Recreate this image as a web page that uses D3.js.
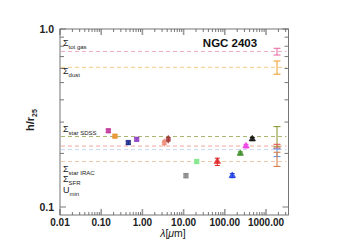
<!DOCTYPE html>
<html>
<head>
<meta charset="utf-8">
<script src="https://cdn.jsdelivr.net/npm/d3@7"></script>
<style>
  body { margin: 0; background: #fff; }
  text { font-family: "Liberation Sans", Arial, sans-serif; }
</style>
</head>
<body>
<div id="chart"></div>
<script>
// wavelength points (micron), scale length h/r25 and error range
const wavelengths = [0.149, 0.216, 0.455, 0.727, 3.4, 4.25, 11.4, 20.8, 65.8, 152, 238, 327, 465];
const hValues     = [0.268, 0.250, 0.230, 0.240, 0.230, 0.240, 0.150, 0.180, 0.180, 0.150, 0.200, 0.220, 0.241];
const hLow        = [0.262, 0.245, 0.225, 0.235, 0.225, 0.235, 0.146, 0.176, 0.171, 0.146, 0.196, 0.215, 0.236];
const hHigh       = [0.274, 0.255, 0.235, 0.245, 0.235, 0.245, 0.154, 0.184, 0.188, 0.154, 0.204, 0.225, 0.246];
const pointColors = ["#c0399a", "#e8952e", "#1c2a8c", "#8e3fc4", "#f08a78", "#a33636", "#8a8a8a", "#7fe88a", "#e02424", "#1f3ee0", "#3f8f2c", "#ee3fe8", "#111111"];
const pointShapes = ["square", "square", "square", "square", "diamond", "diamond", "square", "square", "triangle", "triangle", "triangle", "triangle", "triangle"];

// surface density profiles (dashed lines) and their values at ~2 mm
const profileX     = 1850;
const profileVals  = [0.748, 0.609, 0.249, 0.220, 0.210, 0.180];
const profileLow   = [0.714, 0.557, 0.218, 0.214, 0.192, 0.169];
const profileHigh  = [0.779, 0.661, 0.283, 0.225, 0.212, 0.203];
const profileLine  = ["#eeaac8", "#f2cc84", "#a9b56a", "#f0a898", "#c8d6f0", "#ecc8aa"];
const profileBar   = ["#e870a8", "#f0a438", "#8f9a3a", "#e05a50", "#6e96e0", "#d8804a"];

const labelMain = ["\u03a3", "\u03a3", "\u03a3", "\u03a3", "\u03a3", "U"];
const labelSub  = ["tot gas", "dust", "star SDSS", "star IRAC", "SFR", "min"];
const labelY    = [46, 74, 132, 172, 182, 193];

const xTickLabels = ["0.01", "0.10", "1.00", "10.00", "100.00", "1000.00"];

const W = 347, H = 245;
const plot = { left: 60, right: 288.5, top: 29, bottom: 215 };

const svg = d3.select("#chart").append("svg")
    .attr("width", W)
    .attr("height", H);

const x = d3.scaleLog()
    .domain([0.01, Math.pow(10, 3.546)])
    .range([plot.left, plot.right]);

const y = d3.scaleLog()
    .domain([Math.pow(10, -1.045), 1])
    .range([plot.bottom, plot.top]);

// ticks
const xt = x.ticks().filter(d => d >= 0.01);
const yt = y.ticks().filter(d => d >= 0.1);
const isMajor = d => Math.abs(Math.log10(d) - Math.round(Math.log10(d))) < 1e-6;

const tickG = svg.append("g");
xt.forEach(d => {
    const len = isMajor(d) ? 6 : 3;
    const col = isMajor(d) ? "#999" : "#555";
    const sw = isMajor(d) ? 1.6 : 0.8;
    tickG.append("line").attr("x1", x(d)).attr("x2", x(d))
        .attr("y1", plot.bottom).attr("y2", plot.bottom - len)
        .attr("stroke", col).attr("stroke-width", sw);
    tickG.append("line").attr("x1", x(d)).attr("x2", x(d))
        .attr("y1", plot.top).attr("y2", plot.top + len)
        .attr("stroke", col).attr("stroke-width", sw);
});
yt.forEach(d => {
    const len = isMajor(d) ? 6 : 4;
    tickG.append("line").attr("y1", y(d)).attr("y2", y(d))
        .attr("x1", plot.left).attr("x2", plot.left + len)
        .attr("stroke", "#555").attr("stroke-width", 0.8);
    tickG.append("line").attr("y1", y(d)).attr("y2", y(d))
        .attr("x1", plot.right).attr("x2", plot.right - len)
        .attr("stroke", "#555").attr("stroke-width", 0.8);
});

// frame
svg.append("rect")
    .attr("x", plot.left).attr("y", plot.top)
    .attr("width", plot.right - plot.left)
    .attr("height", plot.bottom - plot.top)
    .attr("fill", "none").attr("stroke", "#666").attr("stroke-width", 0.9);

// tick labels
svg.selectAll(".xl")
    .data(xTickLabels)
    .join("text")
    .attr("x", d => x(+d))
    .attr("y", plot.bottom + 11)
    .attr("text-anchor", "middle")
    .attr("font-size", 10)
    .attr("font-weight", "bold")
    .attr("fill", "#222")
    .text(d => d);

svg.selectAll(".yl")
    .data(["1.0", "0.1"])
    .join("text")
    .attr("x", plot.left - 6)
    .attr("y", d => y(+d) + 4)
    .attr("text-anchor", "end")
    .attr("font-size", 10.5)
    .attr("font-weight", "bold")
    .attr("fill", "#222")
    .text(d => d);

// axis titles
const xTitle = svg.append("text")
    .attr("x", 173).attr("y", 237)
    .attr("text-anchor", "middle")
    .attr("font-size", 10.5)
    .attr("fill", "#222");
xTitle.append("tspan").attr("font-style", "italic").text("\u03bb");
xTitle.append("tspan").text("[");
xTitle.append("tspan").attr("font-style", "italic").text("\u03bc");
xTitle.append("tspan").text("m]");

const yTitle = svg.append("text")
    .attr("transform", "translate(34,120) rotate(-90)")
    .attr("text-anchor", "middle")
    .attr("font-size", 11)
    .attr("font-weight", "bold")
    .attr("fill", "#222");
yTitle.append("tspan").text("h/r");
yTitle.append("tspan").attr("font-size", 7).attr("dy", 3).text("25");

// title
svg.append("text")
    .attr("x", 230).attr("y", 47)
    .attr("text-anchor", "middle")
    .attr("font-size", 11.5)
    .attr("font-weight", "bold")
    .attr("fill", "#111")
    .text("NGC 2403");

// profile labels
labelMain.forEach((m, i) => {
    const t = svg.append("text")
        .attr("x", 63).attr("y", labelY[i])
        .attr("font-size", 9)
        .attr("fill", "#222");
    t.append("tspan").text(m);
    t.append("tspan").attr("font-size", 6).attr("dy", 2.5).text(labelSub[i]);
});

// dashed profile lines
svg.selectAll(".prof")
    .data(profileVals)
    .join("line")
    .attr("x1", plot.left + 1).attr("x2", plot.right - 2)
    .attr("y1", d => y(d)).attr("y2", d => y(d))
    .attr("stroke", (d, i) => profileLine[i])
    .attr("stroke-width", 1)
    .attr("stroke-dasharray", "4,3");

// error bars
function errorBar(g, xv, lo, hi, color, cap, sw) {
    const px = x(xv);
    g.append("line").attr("x1", px).attr("x2", px)
        .attr("y1", y(lo)).attr("y2", y(hi))
        .attr("stroke", color).attr("stroke-width", sw);
    [lo, hi].forEach(v => {
        g.append("line").attr("x1", px - cap / 2).attr("x2", px + cap / 2)
            .attr("y1", y(v)).attr("y2", y(v))
            .attr("stroke", color).attr("stroke-width", sw);
    });
}

const profG = svg.append("g");
profileVals.forEach((v, i) => {
    errorBar(profG, profileX, profileLow[i], profileHigh[i], profileBar[i], 7, 1.1);
});

// data points
const symbols = { square: d3.symbolSquare, diamond: d3.symbolDiamond, triangle: d3.symbolTriangle };
const ptG = svg.append("g");
wavelengths.forEach((w, i) => {
    errorBar(ptG, w, hLow[i], hHigh[i], pointColors[i], 5, 1);
    ptG.append("path")
        .attr("transform", `translate(${x(w)},${y(hValues[i])})`)
        .attr("d", d3.symbol().type(symbols[pointShapes[i]]).size(pointShapes[i] === "square" ? 20 : 18)())
        .attr("fill", pointColors[i])
        .attr("fill-opacity", 0.85)
        .attr("stroke", pointColors[i])
        .attr("stroke-width", 0.6);
});
</script>
</body>
</html>
